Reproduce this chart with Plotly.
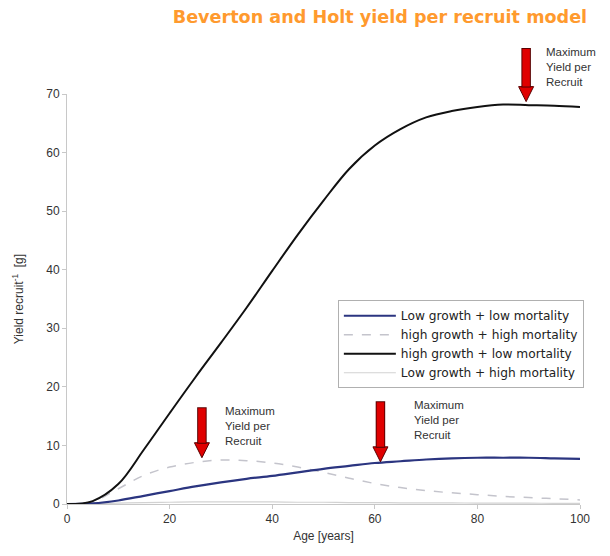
import plotly.graph_objects as go

age = [0, 5, 10, 15, 20, 25, 30, 35, 40, 45, 50, 55, 60, 65, 70, 75, 80, 85, 90, 95, 100]

low_growth_low_mort = [0, 0.1, 0.6, 1.4, 2.2, 3.0, 3.7, 4.3, 4.8, 5.4, 6.0, 6.5, 7.0, 7.3, 7.6, 7.8, 7.9, 7.9, 7.9, 7.8, 7.7]
high_growth_high_mort = [0, 0.4, 2.6, 4.9, 6.3, 7.1, 7.5, 7.4, 7.0, 6.3, 5.4, 4.4, 3.5, 2.8, 2.3, 1.9, 1.6, 1.3, 1.1, 0.9, 0.7]
high_growth_low_mort = [0, 0.5, 3.4, 9.3, 15.5, 21.6, 27.5, 33.5, 39.8, 46.0, 51.8, 57.2, 61.2, 64.0, 66.0, 67.1, 67.8, 68.2, 68.1, 68.0, 67.8]
low_growth_high_mort = [0, 0.05, 0.15, 0.25, 0.3, 0.35, 0.35, 0.35, 0.35, 0.3, 0.3, 0.25, 0.25, 0.2, 0.2, 0.2, 0.15, 0.15, 0.15, 0.1, 0.1]

series_names = ["Low growth + low mortality", "high growth + high mortality",
                "high growth + low mortality", "Low growth + high mortality"]

arrow_x = [26.3, 61.1, 89.5]
arrow_tip_y = [7.9, 7.2, 68.7]
arrow_len_px = [52, 62, 55]
label_xshift = [21, 32, 18]
arrow_label = "Maximum<br>Yield per<br>Recruit"

x_ticks = [0, 20, 40, 60, 80, 100]
y_ticks = [0, 10, 20, 30, 40, 50, 60, 70]

FONT = "Liberation Sans, Arial, sans-serif"
HEAD = 15

fig = go.Figure()

fig.add_trace(go.Scatter(x=age, y=low_growth_high_mort, mode="lines", name=series_names[3],
                         line=dict(color="#d2d2d2", width=1.2, shape="spline"), legendrank=4))
fig.add_trace(go.Scatter(x=age, y=high_growth_high_mort, mode="lines", name=series_names[1],
                         line=dict(color="#c4c4cc", width=1.5, dash="dash", shape="spline"), legendrank=2))
fig.add_trace(go.Scatter(x=age, y=low_growth_low_mort, mode="lines", name=series_names[0],
                         line=dict(color="#2b3580", width=2.2, shape="spline"), legendrank=1))
fig.add_trace(go.Scatter(x=age, y=high_growth_low_mort, mode="lines", name=series_names[2],
                         line=dict(color="#111111", width=2, shape="spline"), legendrank=3))

# arrow heads
fig.add_trace(go.Scatter(x=arrow_x, y=arrow_tip_y, mode="markers", showlegend=False, hoverinfo="skip",
                         cliponaxis=False,
                         marker=dict(symbol="arrow-down", size=HEAD, color="#e00000",
                                     line=dict(color="#5a0000", width=1))))

annotations = []
for xa, ya, ln, xs in zip(arrow_x, arrow_tip_y, arrow_len_px, label_xshift):
    annotations.append(dict(x=xa, y=ya, xref="x", yref="y", ax=0, ay=-ln, axref="pixel", ayref="pixel",
                            showarrow=True, arrowhead=0, arrowwidth=9.5,
                            arrowcolor="#5a0000", text="", standoff=HEAD - 1))
    annotations.append(dict(x=xa, y=ya, xref="x", yref="y", ax=0, ay=-ln, axref="pixel", ayref="pixel",
                            showarrow=True, arrowhead=0, arrowwidth=7.5,
                            arrowcolor="#e00000", text="", standoff=HEAD, startstandoff=1))
    annotations.append(dict(x=xa, y=ya, xref="x", yref="y", showarrow=False, text=arrow_label,
                            xanchor="left", yanchor="top", xshift=xs, yshift=ln + 3,
                            align="left", font=dict(family=FONT, size=11.5, color="#333333")))

annotations.append(dict(x=-0.095, y=0.5, xref="paper", yref="paper", showarrow=False,
                        xanchor="center", yanchor="middle",
                        text="Yield recruit<sup>-1</sup>  [g]", textangle=-90,
                        font=dict(family=FONT, size=12, color="#333333")))

fig.update_layout(
    width=610, height=556,
    margin=dict(l=67, r=30, t=94, b=52),
    paper_bgcolor="white", plot_bgcolor="white",
    title=dict(text="<b>Beverton and Holt yield per recruit model</b>", x=0.61, y=1 - 17 / 556,
               xanchor="center", yanchor="middle", xref="paper", yref="container",
               font=dict(family="DejaVu Sans, Verdana, sans-serif", size=17.6, color="#ff9a2e")),
    xaxis=dict(range=[0, 100], tickvals=x_ticks, showgrid=False, zeroline=False,
               showline=True, linecolor="#c8c8c8", linewidth=1,
               ticks="outside", ticklen=4, tickcolor="#c8c8c8",
               tickfont=dict(family=FONT, size=12, color="#333333"),
               title=dict(text="Age [years]", font=dict(family=FONT, size=12, color="#333333"), standoff=6)),
    yaxis=dict(range=[0, 70], tickvals=y_ticks, showgrid=False, zeroline=False,
               showline=True, linecolor="#c8c8c8", linewidth=1,
               ticks="outside", ticklen=4, tickcolor="#c8c8c8",
               tickfont=dict(family=FONT, size=12, color="#333333")),
    legend=dict(x=0.528, y=0.497, xanchor="left", yanchor="top",
                bgcolor="white", bordercolor="#b0b0b0", borderwidth=1,
                font=dict(family="DejaVu Sans, Verdana, sans-serif", size=12.2, color="#222222"),
                tracegroupgap=0, itemwidth=52),
    annotations=annotations,
    showlegend=True,
)

fig.write_html("out.html", config={"displayModeBar": False},
               post_script="document.body.style.margin='0';")
